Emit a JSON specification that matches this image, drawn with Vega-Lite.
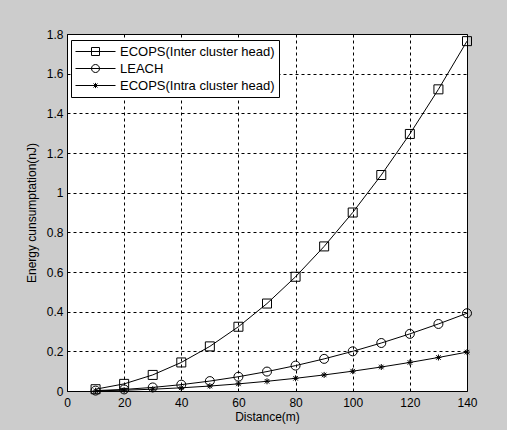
{
  "$schema": "https://vega.github.io/schema/vega-lite/v6.json",
  "width": 400,
  "height": 357,
  "autosize": {"type": "none"},
  "padding": {"left": 67, "top": 34, "right": 40, "bottom": 39},
  "background": "#cccccc",
  "config": {
    "view": {"stroke": "black", "strokeWidth": 1, "fill": "white"},
    "font": "Liberation Sans",
    "axis": {
      "labelFont": "Liberation Sans",
      "titleFont": "Liberation Sans",
      "labelFontSize": 12,
      "titleFontSize": 12,
      "labelColor": "black",
      "titleColor": "black",
      "titleFontWeight": "normal",
      "domain": false,
      "ticks": false,
      "grid": true,
      "gridColor": "black",
      "gridOpacity": 1,
      "gridDash": [3, 3],
      "gridWidth": 1
    }
  },
  "data": {
    "values": [
      {"d": 10, "s": "ECOPS(Inter cluster head)", "e": 0.009},
      {"d": 20, "s": "ECOPS(Inter cluster head)", "e": 0.036},
      {"d": 30, "s": "ECOPS(Inter cluster head)", "e": 0.081},
      {"d": 40, "s": "ECOPS(Inter cluster head)", "e": 0.144},
      {"d": 50, "s": "ECOPS(Inter cluster head)", "e": 0.225},
      {"d": 60, "s": "ECOPS(Inter cluster head)", "e": 0.324},
      {"d": 70, "s": "ECOPS(Inter cluster head)", "e": 0.441},
      {"d": 80, "s": "ECOPS(Inter cluster head)", "e": 0.576},
      {"d": 90, "s": "ECOPS(Inter cluster head)", "e": 0.729},
      {"d": 100, "s": "ECOPS(Inter cluster head)", "e": 0.9},
      {"d": 110, "s": "ECOPS(Inter cluster head)", "e": 1.089},
      {"d": 120, "s": "ECOPS(Inter cluster head)", "e": 1.296},
      {"d": 130, "s": "ECOPS(Inter cluster head)", "e": 1.521},
      {"d": 140, "s": "ECOPS(Inter cluster head)", "e": 1.764},
      {"d": 10, "s": "LEACH", "e": 0.002},
      {"d": 20, "s": "LEACH", "e": 0.008},
      {"d": 30, "s": "LEACH", "e": 0.018},
      {"d": 40, "s": "LEACH", "e": 0.032},
      {"d": 50, "s": "LEACH", "e": 0.05},
      {"d": 60, "s": "LEACH", "e": 0.072},
      {"d": 70, "s": "LEACH", "e": 0.098},
      {"d": 80, "s": "LEACH", "e": 0.128},
      {"d": 90, "s": "LEACH", "e": 0.162},
      {"d": 100, "s": "LEACH", "e": 0.2},
      {"d": 110, "s": "LEACH", "e": 0.242},
      {"d": 120, "s": "LEACH", "e": 0.288},
      {"d": 130, "s": "LEACH", "e": 0.338},
      {"d": 140, "s": "LEACH", "e": 0.392},
      {"d": 10, "s": "ECOPS(Intra cluster head)", "e": 0.001},
      {"d": 20, "s": "ECOPS(Intra cluster head)", "e": 0.004},
      {"d": 30, "s": "ECOPS(Intra cluster head)", "e": 0.009},
      {"d": 40, "s": "ECOPS(Intra cluster head)", "e": 0.016},
      {"d": 50, "s": "ECOPS(Intra cluster head)", "e": 0.025},
      {"d": 60, "s": "ECOPS(Intra cluster head)", "e": 0.036},
      {"d": 70, "s": "ECOPS(Intra cluster head)", "e": 0.049},
      {"d": 80, "s": "ECOPS(Intra cluster head)", "e": 0.064},
      {"d": 90, "s": "ECOPS(Intra cluster head)", "e": 0.081},
      {"d": 100, "s": "ECOPS(Intra cluster head)", "e": 0.1},
      {"d": 110, "s": "ECOPS(Intra cluster head)", "e": 0.121},
      {"d": 120, "s": "ECOPS(Intra cluster head)", "e": 0.144},
      {"d": 130, "s": "ECOPS(Intra cluster head)", "e": 0.169},
      {"d": 140, "s": "ECOPS(Intra cluster head)", "e": 0.196}
    ]
  },
  "encoding": {
    "x": {
      "field": "d",
      "type": "quantitative",
      "scale": {"domain": [0, 140], "nice": false, "zero": false},
      "axis": {"title": "Distance(m)", "values": [0, 20, 40, 60, 80, 100, 120, 140], "labelPadding": 6, "titlePadding": 3, "labelFlush": false}
    },
    "y": {
      "field": "e",
      "type": "quantitative",
      "scale": {"domain": [0, 1.8], "nice": false},
      "axis": {"title": "Energy cunsumptation(nJ)", "values": [0, 0.2, 0.4, 0.6, 0.8, 1, 1.2, 1.4, 1.6, 1.8], "format": "~f", "labelPadding": 4, "titlePadding": 8, "labelFlush": false}
    }
  },
  "layer": [
    {
      "mark": {"type": "line", "color": "black", "strokeWidth": 1},
      "encoding": {
        "detail": {"field": "s", "type": "nominal"},
        "order": {"field": "d", "type": "quantitative"}
      }
    },
    {
      "mark": {"type": "point", "filled": false, "fill": "transparent", "stroke": "black", "strokeWidth": 1, "size": 100, "opacity": 1},
      "encoding": {
        "shape": {
          "field": "s",
          "type": "nominal",
          "scale": {
            "domain": ["ECOPS(Inter cluster head)", "LEACH", "ECOPS(Intra cluster head)"],
            "range": [
              "M-0.9,-0.9H0.9V0.9H-0.9Z",
              "M-0.9,0A0.9,0.9,0,1,0,0.9,0A0.9,0.9,0,1,0,-0.9,0Z",
              "M-0.6,0H0.6M0,-0.6V0.6M-0.45,-0.45L0.45,0.45M-0.45,0.45L0.45,-0.45"
            ]
          },
          "legend": null
        }
      }
    },
    {
      "transform": [{"filter": "datum.d > 1000"}],
      "mark": {"type": "point", "filled": false, "fill": "transparent", "stroke": "black", "strokeWidth": 1, "size": 1600, "opacity": 1},
      "encoding": {
        "shape": {
          "field": "s",
          "type": "nominal",
          "scale": {
            "domain": ["ECOPS(Inter cluster head)", "LEACH", "ECOPS(Intra cluster head)"],
            "range": [
              "M-1,0H1M-0.2,-0.2H0.2V0.2H-0.2Z",
              "M-1,0H1M-0.2,0A0.2,0.2,0,1,0,0.2,0A0.2,0.2,0,1,0,-0.2,0Z",
              "M-1,0H1M0,-0.13V0.13M-0.1,-0.1L0.1,0.1M-0.1,0.1L0.1,-0.1"
            ]
          },
          "legend": {
            "title": null,
            "orient": "none",
            "legendX": 4,
            "legendY": 6,
            "padding": 4,
            "strokeColor": "black",
            "fillColor": "white",
            "cornerRadius": 0,
            "symbolSize": 1600,
            "symbolStrokeColor": "black",
            "symbolFillColor": "transparent",
            "symbolStrokeWidth": 1,
            "clipHeight": 15,
            "rowPadding": 2,
            "labelFont": "Liberation Sans",
            "labelFontSize": 13,
            "labelColor": "black",
            "labelOffset": 4,
            "labelLimit": 300
          }
        }
      }
    }
  ],
  "resolve": {"scale": {"shape": "independent"}, "legend": {"shape": "independent"}}
}
